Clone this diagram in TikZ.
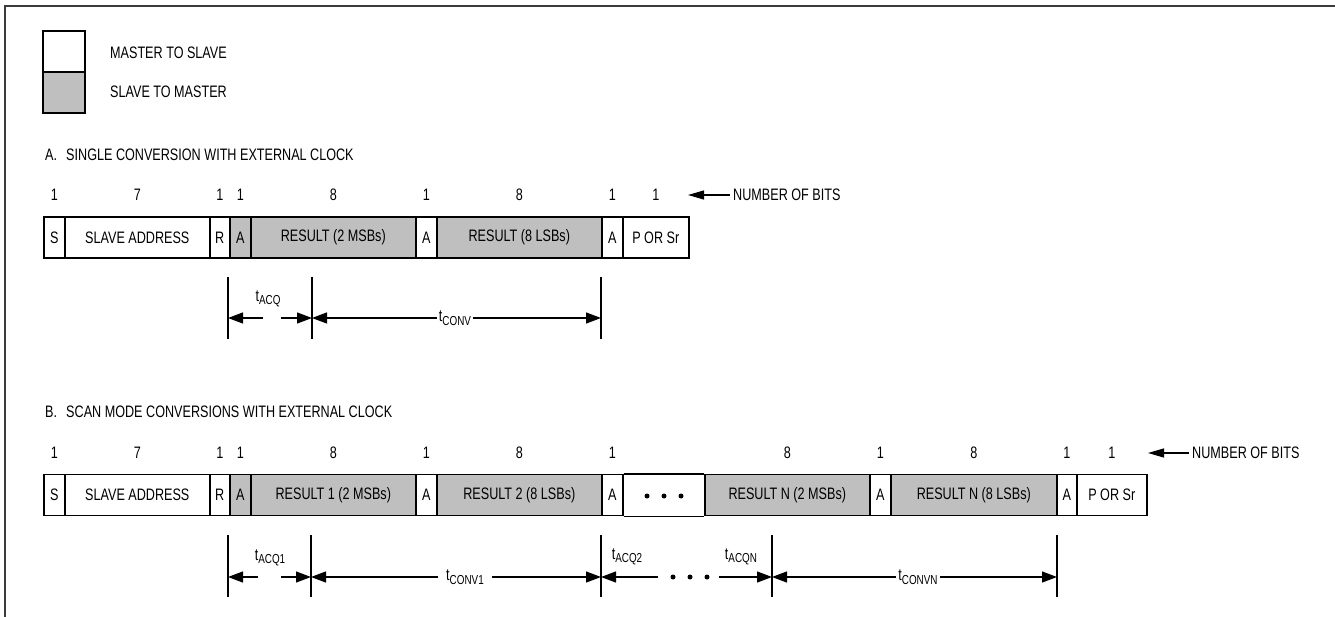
\documentclass[tikz,border=0pt]{standalone}
\usepackage{fontspec}
\setmainfont{Liberation Sans}[FakeStretch=0.76]
\usetikzlibrary{arrows.meta}
\definecolor{boxgray}{RGB}{191,191,191}
\definecolor{framegray}{RGB}{60,60,60}
\newcommand{\tsub}[1]{t\raisebox{-3.5pt}{\fontsize{13pt}{14pt}\selectfont #1}}

\begin{document}
\begin{tikzpicture}[x=1pt, y=-1pt,
    font=\fontsize{16.6pt}{20pt}\selectfont,
    fld/.style={draw, line width=1.6pt, fill=white, minimum height=41pt,
                inner sep=0pt, anchor=west},
    fldg/.style={fld, fill=boxgray},
    tick/.style={line width=1.2pt},
    dim/.style={line width=1.2pt, -{Triangle[length=15pt,width=11pt]}},
    bits/.style={line width=1.2pt, -{Triangle[length=16pt,width=9pt]}},
    dot/.style={circle, fill, inner sep=0pt, minimum size=5pt},
    lbl/.style={anchor=west, inner sep=0pt}]
  \useasboundingbox (0,0) rectangle (1335,617);
  \draw[framegray, line width=2.4pt] (5,617) -- (5,6) -- (1335,6);

  % Legend
  \node[fld, minimum width=42pt] (lgW) at (42,51.5) {};
  \node[fldg, minimum width=42pt] (lgG) at (42,92.5) {};
  \node[lbl] (lgWtxt) at (110,53) {MASTER TO SLAVE};
  \node[lbl] (lgGtxt) at (110,92) {SLAVE TO MASTER};

  % A. single conversion
  \node[lbl] (hA) at (45,155) {A.\hspace{0.55em}SINGLE CONVERSION WITH EXTERNAL CLOCK};
  \node[fld, minimum width=21pt]   (aS)    at (43,237.5)  {S};
  \node[fld, minimum width=145pt]  (aAddr) at (64,237.5)  {SLAVE ADDRESS};
  \node[fld, minimum width=20pt]   (aR)    at (209,237.5) {R};
  \node[fldg, minimum width=21pt]  (aA1)   at (229,237.5) {A};
  \node[fldg, minimum width=165pt] (aRes1) at (250,237.5) {RESULT (2 MSBs)};
  \node[fld, minimum width=21pt]   (aA2)   at (415,237.5) {A};
  \node[fldg, minimum width=165pt] (aRes2) at (436,237.5) {RESULT (8 LSBs)};
  \node[fld, minimum width=21pt]   (aA3)   at (601,237.5) {A};
  \node[fld, minimum width=66pt]   (aP)    at (622,237.5) {P OR Sr};

  \coordinate (aBitsY) at (0,195);
  \foreach \f/\n in {aS/1, aAddr/7, aR/1, aA1/1, aRes1/8, aA2/1, aRes2/8, aA3/1, aP/1}
    \node (\f bits) at (\f |- aBitsY) {\n};
  \node[lbl] (aNob) at (733,195) {NUMBER OF BITS};
  \coordinate (aNobTip) at (688,195);
  \draw[bits] ([xshift=-3pt]aNob.west) -- (aNobTip);

  % A. timing
  \coordinate (aT1) at (228,318);
  \coordinate (aT2) at (312,318);
  \coordinate (aT3) at (601,318);
  \foreach \t in {aT1,aT2,aT3}
    \draw[tick] ([yshift=41pt]\t) -- ([yshift=-21pt]\t);
  \node (aAcq) at (268,299) {\tsub{ACQ}};
  \coordinate (aG1) at (263,318);
  \coordinate (aG2) at (281,318);
  \draw[dim] (aG1) -- (aT1);
  \draw[dim] (aG2) -- (aT2);
  \node[inner sep=2pt] (aConv) at (455,318) {\tsub{CONV}};
  \draw[dim] (aConv) -- (aT2);
  \draw[dim] (aConv) -- (aT3);

  % B. scan mode
  \node[lbl] (hB) at (45,412) {B.\hspace{0.55em}SCAN MODE CONVERSIONS WITH EXTERNAL CLOCK};
  \node[fld, minimum width=21pt]   (bS)    at (43,495)   {S};
  \node[fld, minimum width=145pt]  (bAddr) at (64,495)   {SLAVE ADDRESS};
  \node[fld, minimum width=20pt]   (bR)    at (209,495)  {R};
  \node[fldg, minimum width=21pt]  (bA1)   at (229,495)  {A};
  \node[fldg, minimum width=165pt] (bRes1) at (250,495)  {RESULT 1 (2 MSBs)};
  \node[fld, minimum width=21pt]   (bA2)   at (415,495)  {A};
  \node[fldg, minimum width=165pt] (bRes2) at (436,495)  {RESULT 2 (8 LSBs)};
  \node[fld, minimum width=21pt]   (bA3)   at (601,495)  {A};
  \node[fldg, minimum width=165pt] (bRes3) at (704,495)  {RESULT N (2 MSBs)};
  \node[fld, minimum width=21pt]   (bA4)   at (869,495)  {A};
  \node[fldg, minimum width=166pt] (bRes4) at (890,495)  {RESULT N (8 LSBs)};
  \node[fld, minimum width=20pt]   (bA5)   at (1056,495) {A};
  \node[fld, minimum width=70pt]   (bP)    at (1076,495) {P OR Sr};
  \draw[line width=1.6pt] (bA3.north east) -- (bRes3.north west);
  \draw[line width=1.6pt] (bA3.south east) -- (bRes3.south west);
  \node[dot] (bD1) at (647,496) {};
  \node[dot] (bD2) at (664,496) {};
  \node[dot] (bD3) at (681,496) {};

  \coordinate (bBitsY) at (0,453);
  \foreach \f/\n in {bS/1, bAddr/7, bR/1, bA1/1, bRes1/8, bA2/1, bRes2/8, bA3/1,
                     bRes3/8, bA4/1, bRes4/8, bA5/1, bP/1}
    \node (\f bits) at (\f |- bBitsY) {\n};
  \node[lbl] (bNob) at (1192,453) {NUMBER OF BITS};
  \coordinate (bNobTip) at (1148,453);
  \draw[bits] ([xshift=-3pt]bNob.west) -- (bNobTip);

  % B. timing
  \coordinate (bT1) at (228,577);
  \coordinate (bT2) at (311,577);
  \coordinate (bT3) at (601,577);
  \coordinate (bT4) at (772,577);
  \coordinate (bT5) at (1057,577);
  \foreach \t in {bT1,bT2,bT3,bT4,bT5}
    \draw[tick] ([yshift=42pt]\t) -- ([yshift=-20pt]\t);
  \node (bAcq1) at (270,558) {\tsub{ACQ1}};
  \coordinate (bG1) at (258,577);
  \coordinate (bG2) at (281,577);
  \draw[dim] (bG1) -- (bT1);
  \draw[dim] (bG2) -- (bT2);
  \node[inner sep=8pt] (bConv1) at (465,577) {\tsub{CONV1}};
  \draw[dim] (bConv1) -- (bT2);
  \draw[dim] (bConv1) -- (bT3);
  \node (bAcq2) at (627,557) {\tsub{ACQ2}};
  \coordinate (bG3) at (658,577);
  \draw[dim] (bG3) -- (bT3);
  \node[dot] (bD4) at (673,577) {};
  \node[dot] (bD5) at (690,577) {};
  \node[dot] (bD6) at (707,577) {};
  \node (bAcqN) at (741,557) {\tsub{ACQN}};
  \coordinate (bG4) at (719,577);
  \draw[dim] (bG4) -- (bT4);
  \node[inner sep=2pt] (bConvN) at (918,577) {\tsub{CONVN}};
  \draw[dim] (bConvN) -- (bT4);
  \draw[dim] (bConvN) -- (bT5);
\end{tikzpicture}
\end{document}
